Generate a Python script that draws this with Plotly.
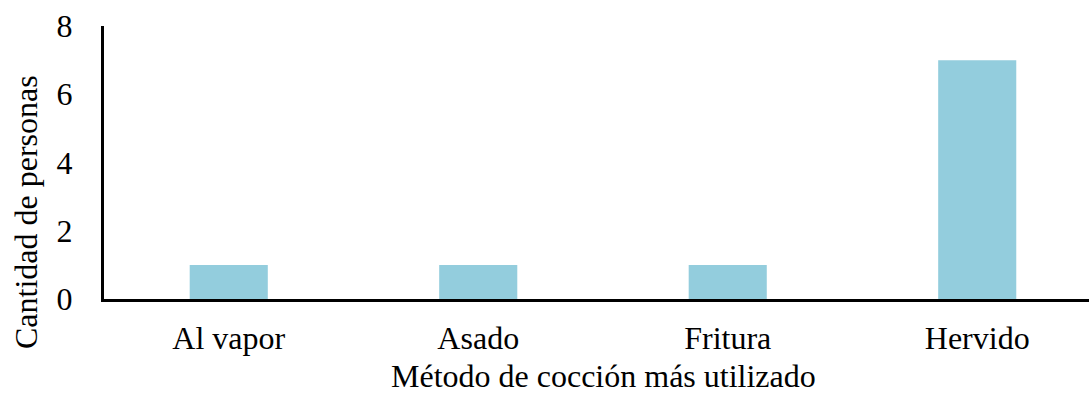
import plotly.graph_objects as go

# Cooking methods and number of people who use each one most
metodos = ["Al vapor", "Asado", "Fritura", "Hervido"]
personas = [1, 1, 1, 7]
y_ticks = [0, 2, 4, 6, 8]

FONT = "Liberation Serif, Times New Roman, serif"
SIZE = 32

# Plot area in pixels (used to place the axis titles)
L, R, T, B = 104, 0, 26, 95
W, H = 1089, 394
plot_w = W - L - R
plot_h = H - T - B


def px_x(x):
    return (x - L) / plot_w


def px_y(y):
    return (H - B - y) / plot_h


fig = go.Figure(
    go.Bar(
        x=metodos,
        y=personas,
        width=0.313,
        marker=dict(color="#93CDDD", line=dict(width=0)),
    )
)

fig.update_layout(
    width=W,
    height=H,
    margin=dict(l=L, r=R, t=T, b=B),
    paper_bgcolor="white",
    plot_bgcolor="white",
    font=dict(family=FONT, size=SIZE, color="black"),
    showlegend=False,
    annotations=[
        dict(
            text="Método de cocción más utilizado",
            xref="paper", yref="paper",
            x=px_x(603), y=px_y(376),
            xanchor="center", yanchor="middle",
            showarrow=False,
            borderpad=0,
            font=dict(family=FONT, size=SIZE, color="black"),
        ),
        dict(
            text="Cantidad de personas",
            xref="paper", yref="paper",
            x=px_x(26), y=px_y(212),
            xanchor="center", yanchor="middle",
            textangle=-90,
            showarrow=False,
            font=dict(family=FONT, size=SIZE, color="black"),
        ),
    ],
)

fig.update_xaxes(
    range=[-0.5, 3.448],
    showline=True,
    linecolor="black",
    linewidth=3,
    showgrid=False,
    zeroline=False,
    ticks="",
    ticklabelstandoff=9,
    tickfont=dict(family=FONT, size=SIZE),
)

fig.update_yaxes(
    range=[0, 8],
    tickvals=y_ticks,
    showline=True,
    linecolor="black",
    linewidth=3,
    showgrid=False,
    zeroline=False,
    ticks="",
    ticklabelstandoff=22,
    tickfont=dict(family=FONT, size=SIZE),
)

fig.write_html("out.html")
